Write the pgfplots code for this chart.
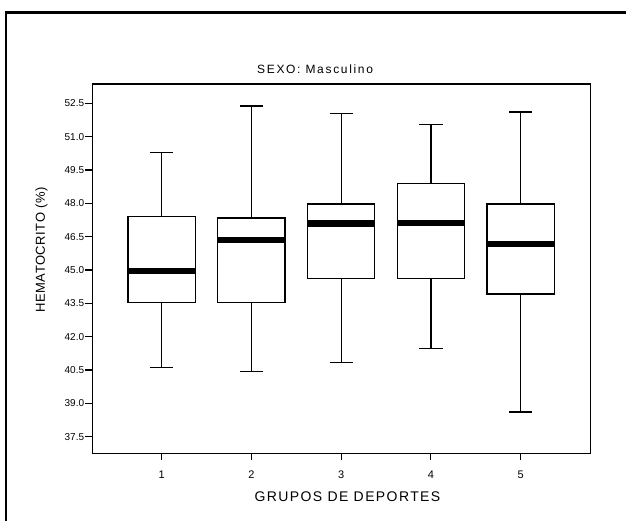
\documentclass[border=0pt]{standalone}
\usepackage{pgfplots}
\pgfplotsset{compat=1.18}
\usepackage{fontspec}
\setmainfont{Liberation Sans}
\newfontfamily\titlefont[LetterSpace=14]{Liberation Sans}
\newfontfamily\xlabfont[LetterSpace=10]{Liberation Sans}
\newfontfamily\ylabfont[LetterSpace=4]{Liberation Sans}
\begin{document}
\begin{tikzpicture}
\useasboundingbox (0pt,0pt) rectangle (626pt,521pt);
\draw[line width=2.3pt] (6.3pt,0pt) -- (6.3pt,508.5pt) -- (626pt,508.5pt);
\begin{axis}[
  at={(92.3pt,67.7pt)}, anchor=south west,
  scale only axis, width=498.4pt, height=369.3pt,
  xmin=0.227, xmax=5.78, ymin=36.75, ymax=53.37,
  axis line style={line width=1.3pt},
  tick align=outside, xtick pos=bottom, ytick pos=left,
  major tick length=7pt,
  tick style={line width=1.1pt, black},
  xtick={1,2,3,4,5},
  ytick={37.5,39,40.5,42,43.5,45,46.5,48,49.5,51,52.5},
  /pgf/number format/assume math mode=true,
  yticklabel style={/pgf/number format/.cd, fixed, fixed zerofill, precision=1, /tikz/.cd, font=\fontsize{10}{11}\selectfont, inner sep=1pt},
  xticklabel style={font=\fontsize{11}{12}\selectfont, yshift=-7pt},
  title={\titlefont SEXO: Masculino},
  title style={at={(axis description cs:0.447,1.0393)}, anchor=center, yshift=-6pt, font=\fontsize{12}{13}\selectfont, inner sep=0pt},
  xlabel={\xlabfont GRUPOS DE DEPORTES},
  xlabel style={at={(axis description cs:0.512,-0.1175)}, anchor=center, font=\fontsize{14}{15}\selectfont, inner sep=0pt},
  ylabel={\ylabfont HEMATOCRITO (\%)},
  ylabel style={at={(axis description cs:-0.1019,0.5505)}, anchor=center, font=\fontsize{13}{14}\selectfont, inner sep=0pt},
  unbounded coords=jump,
]
% whiskers and caps
\addplot[black, line width=1.2pt, mark=none] coordinates {
 (1,40.62) (1,43.52) (1,nan) (1,47.40) (1,50.30) (1,nan)
 (0.87,40.62) (1.13,40.62) (1,nan) (0.87,50.30) (1.13,50.30) (1,nan)
 (2,40.44) (2,43.52) (2,nan) (2,47.34) (2,52.38) (2,nan)
 (1.87,40.44) (2.13,40.44) (2,nan) (1.87,52.38) (2.13,52.38) (2,nan)
 (3,40.85) (3,44.60) (3,nan) (3,47.97) (3,52.03) (3,nan)
 (2.87,40.85) (3.13,40.85) (3,nan) (2.87,52.03) (3.13,52.03) (3,nan)
 (4,41.45) (4,44.60) (4,nan) (4,48.88) (4,51.54) (4,nan)
 (3.87,41.45) (4.13,41.45) (4,nan) (3.87,51.54) (4.13,51.54) (4,nan)
 (5,38.61) (5,43.92) (5,nan) (5,47.97) (5,52.11) (5,nan)
 (4.87,38.61) (5.13,38.61) (5,nan) (4.87,52.11) (5.13,52.11)
};
% boxes (lower quartile to upper quartile)
\addplot[black, line width=1.2pt, fill=white, mark=none] coordinates {(0.625,43.52) (1.375,43.52) (1.375,47.40) (0.625,47.40)} -- cycle;
\addplot[black, line width=1.2pt, fill=white, mark=none] coordinates {(1.625,43.52) (2.375,43.52) (2.375,47.34) (1.625,47.34)} -- cycle;
\addplot[black, line width=1.2pt, fill=white, mark=none] coordinates {(2.625,44.60) (3.375,44.60) (3.375,47.97) (2.625,47.97)} -- cycle;
\addplot[black, line width=1.2pt, fill=white, mark=none] coordinates {(3.625,44.60) (4.375,44.60) (4.375,48.88) (3.625,48.88)} -- cycle;
\addplot[black, line width=1.2pt, fill=white, mark=none] coordinates {(4.625,43.92) (5.375,43.92) (5.375,47.97) (4.625,47.97)} -- cycle;
% medians
\addplot[black, line width=6.5pt, mark=none] coordinates {
 (0.625,44.96) (1.375,44.96) (1,nan)
 (1.625,46.35) (2.375,46.35) (2,nan)
 (2.625,47.10) (3.375,47.10) (3,nan)
 (3.625,47.12) (4.375,47.12) (4,nan)
 (4.625,46.18) (5.375,46.18)
};
\end{axis}
\end{tikzpicture}
\end{document}
